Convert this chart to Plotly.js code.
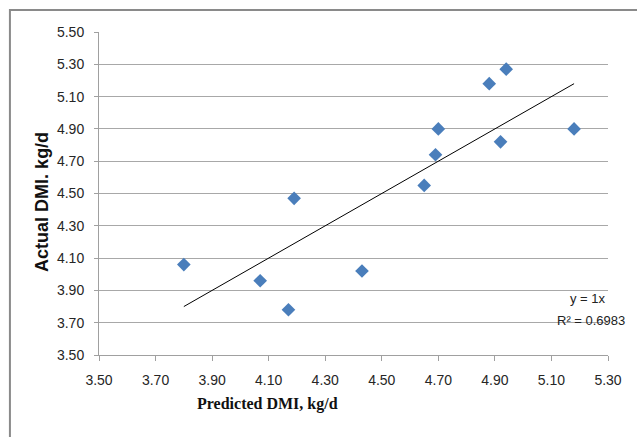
<!DOCTYPE html>
<html>
<head>
<meta charset="utf-8">
<script src="https://cdn.plot.ly/plotly-3.0.1.min.js"></script>
<style>html,body{margin:0;padding:0;background:#fff;}#chart{width:637px;height:437px;}</style>
</head>
<body>
<div id="chart"></div>
<script>
// Data
var predicted = [3.80, 4.07, 4.17, 4.19, 4.43, 4.65, 4.69, 4.70, 4.88, 4.94, 4.92, 5.18];
var actual    = [4.06, 3.96, 3.78, 4.47, 4.02, 4.55, 4.74, 4.90, 5.18, 5.27, 4.82, 4.90];
var trendSlope = 1;
var trendEquation = "y = 1x";
var trendR2 = "R² = 0.6983";
var xTickVals = [3.50, 3.70, 3.90, 4.10, 4.30, 4.50, 4.70, 4.90, 5.10, 5.30];
var yTickVals = [3.50, 3.70, 3.90, 4.10, 4.30, 4.50, 4.70, 4.90, 5.10, 5.30, 5.50];
var xTitle = "Predicted DMI, kg/d";
var yTitle = "Actual DMI. kg/d";

var xMin = Math.min.apply(null, predicted);
var xMax = Math.max.apply(null, predicted);

var traces = [
  {
    x: [xMin, xMax],
    y: [trendSlope * xMin, trendSlope * xMax],
    mode: "lines",
    line: {color: "#000000", width: 1},
    hoverinfo: "skip",
    showlegend: false
  },
  {
    x: predicted,
    y: actual,
    mode: "markers",
    marker: {symbol: "diamond", size: 10.5, color: "#4a7ebb"},
    showlegend: false
  }
];

var axisFont = {family: "Liberation Sans, Arial, sans-serif", size: 14, color: "#262626"};

var layout = {
  width: 637,
  height: 437,
  margin: {l: 99, r: 29, t: 32, b: 82, pad: 0},
  paper_bgcolor: "#ffffff",
  plot_bgcolor: "#ffffff",
  showlegend: false,
  xaxis: {
    range: [3.5, 5.3],
    tickvals: xTickVals,
    ticktext: xTickVals.map(function(v){return v.toFixed(2);}),
    showgrid: false,
    zeroline: false,
    showline: true,
    linecolor: "#a0a0a0",
    linewidth: 1,
    ticks: "outside",
    ticklen: 5,
    tickcolor: "#a0a0a0",
    tickfont: axisFont,
    ticklabelstandoff: 7
  },
  yaxis: {
    range: [3.5, 5.5],
    tickvals: yTickVals,
    ticktext: yTickVals.map(function(v){return v.toFixed(2);}),
    showgrid: true,
    gridcolor: "#a8a8a8",
    gridwidth: 1,
    zeroline: false,
    showline: true,
    linecolor: "#a0a0a0",
    linewidth: 1,
    ticks: "outside",
    ticklen: 4,
    tickcolor: "#a0a0a0",
    tickfont: axisFont,
    ticklabelstandoff: 7
  },
  shapes: [
    {
      type: "rect", xref: "paper", yref: "paper",
      x0: -0.175, x1: 1.3, y0: -0.4, y1: 1.068,
      line: {color: "#8a8a8a", width: 2},
      fillcolor: "rgba(0,0,0,0)",
      layer: "below"
    }
  ],
  annotations: [
    {
      text: xTitle, xref: "paper", yref: "paper",
      x: 0.332, y: -0.152, xanchor: "center", yanchor: "middle",
      showarrow: false,
      font: {family: "Liberation Serif, Times New Roman, serif", size: 16, color: "#111111", weight: "bold"}
    },
    {
      text: yTitle, xref: "paper", yref: "paper",
      x: -0.112, y: 0.474, xanchor: "center", yanchor: "middle",
      textangle: -90, showarrow: false,
      font: {family: "Liberation Sans, Arial, sans-serif", size: 18, color: "#111111", weight: "bold"}
    },
    {
      text: trendEquation, xref: "paper", yref: "paper",
      x: 1.0, y: 0.176, xanchor: "right", yanchor: "middle",
      showarrow: false,
      font: {family: "Liberation Sans, Arial, sans-serif", size: 13, color: "#222222"}
    },
    {
      text: trendR2, xref: "paper", yref: "paper",
      x: 1.037, y: 0.108, xanchor: "right", yanchor: "middle",
      showarrow: false,
      font: {family: "Liberation Sans, Arial, sans-serif", size: 13, color: "#222222"}
    }
  ]
};

Plotly.newPlot("chart", traces, layout, {displayModeBar: false, staticPlot: true});
</script>
</body>
</html>
